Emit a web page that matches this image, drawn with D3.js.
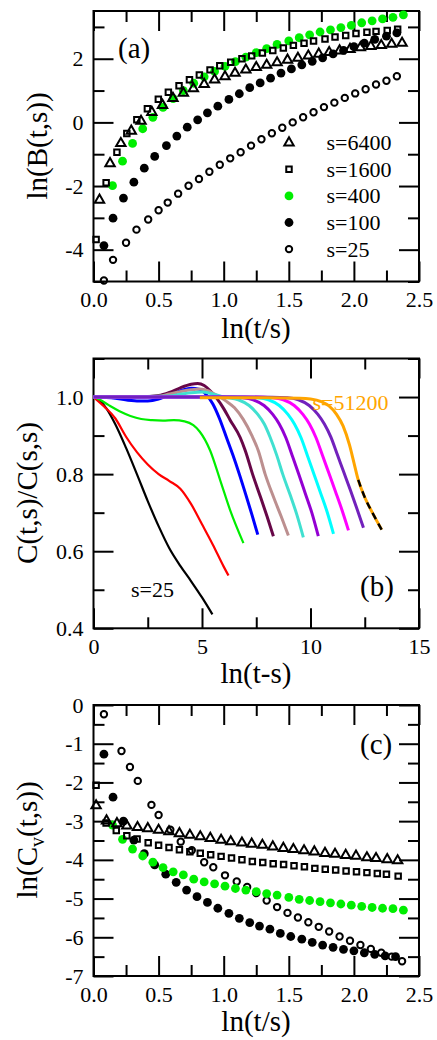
<!DOCTYPE html>
<html>
<head>
<meta charset="utf-8">
<script src="https://cdn.jsdelivr.net/npm/d3@7"></script>
<style>
  body { margin: 0; background: #fff; }
  text { font-family: "Liberation Serif", "Times New Roman", serif; }
</style>
</head>
<body>
<script>

// ---------- panel (a): ln(B(t,s)) vs ln(t/s) ----------
var aX25 = [0.08,0.15,0.25,0.33,0.42,0.50,0.57,0.65,0.73,0.81,0.89,0.97,1.05,1.13,1.21,1.29,1.37,1.45,1.53,1.61,1.69,1.77,1.85,1.93,2.01,2.09,2.17,2.25,2.33];
var aY25 = [-4.97,-4.32,-3.78,-3.37,-3.05,-2.76,-2.52,-2.24,-1.99,-1.78,-1.55,-1.33,-1.13,-0.94,-0.73,-0.53,-0.34,-0.17,0.0,0.16,0.32,0.48,0.62,0.77,0.91,1.04,1.19,1.31,1.45];
var aX100 = [0.08,0.15,0.23,0.31,0.39,0.47,0.56,0.64,0.72,0.80,0.875,0.955,1.04,1.12,1.20,1.28,1.36,1.44,1.52,1.60,1.68,1.76,1.84,1.92,2.00,2.08,2.16,2.25,2.33];
var aY100 = [-3.87,-3.01,-2.38,-1.88,-1.44,-1.07,-0.73,-0.43,-0.15,0.08,0.30,0.51,0.72,0.90,1.09,1.24,1.39,1.55,1.68,1.81,1.92,2.03,2.15,2.26,2.38,2.49,2.61,2.71,2.81];
var aX400 = [0.146,0.223,0.30,0.378,0.456,0.534,0.612,0.69,0.77,0.85,0.93,1.01,1.09,1.17,1.25,1.33,1.41,1.50,1.58,1.66,1.74,1.82,1.90,1.98,2.06,2.14,2.22,2.30,2.38];
var aY400 = [-1.99,-1.22,-0.66,-0.20,0.16,0.47,0.75,1.0,1.23,1.43,1.60,1.76,1.91,2.05,2.19,2.32,2.45,2.56,2.66,2.75,2.84,2.91,2.98,3.05,3.13,3.19,3.25,3.30,3.38];
var aX1600 = [0.02,0.097,0.18,0.256,0.333,0.414,0.498,0.575,0.657,0.737,0.813,0.895,0.97,1.054,1.14,1.215,1.297,1.377,1.458,1.535,1.617,1.69,1.778,1.855,1.937,2.016,2.10,2.17,2.256,2.336];
var aY1600 = [-3.68,-1.90,-0.94,-0.35,0.08,0.43,0.73,0.95,1.15,1.34,1.49,1.65,1.78,1.89,2.0,2.09,2.18,2.26,2.34,2.42,2.49,2.56,2.62,2.68,2.73,2.79,2.83,2.86,2.89,2.93];
var aX6400 = [0.046,0.127,0.21,0.29,0.365,0.448,0.53,0.61,0.69,0.767,0.85,0.93,1.01,1.087,1.17,1.25,1.33,1.41,1.49,1.57,1.65,1.73,1.81,1.89,1.97,2.05,2.13,2.21,2.29,2.37];
var aY6400 = [-2.44,-1.29,-0.66,-0.27,0.04,0.32,0.54,0.76,0.92,1.06,1.20,1.34,1.44,1.55,1.65,1.73,1.80,1.88,1.96,2.02,2.09,2.15,2.20,2.25,2.30,2.35,2.39,2.42,2.46,2.49];

// ---------- panel (b): C(t,s)/C(s,s) vs ln(t-s) ----------
var bS = ["25","50","100","200","400","800","1600","3200","6400","12800","25600","51200"];
var bColors = ["#000000","#ff0000","#00ee00","#0000ff","#670748","#bc8f8f","#40e0d0","#9400d3","#00ffff","#ff00ff","#7221bc","#ffa500"];
var bX = [
  [0,0.3,0.6,1.0,1.5,2.0,2.5,3.0,3.5,4.0,4.5,5.0,5.48],
  [0,0.5,1.0,1.5,2.0,2.5,3.0,3.5,4.0,4.5,5.0,5.5,6.0,6.22],
  [0,0.3,0.7,1.2,1.7,2.2,2.7,3.2,3.7,4.2,4.6,4.9,5.37,5.84,6.3,6.91],
  [0,1.0,2.0,2.5,3.0,3.5,4.0,4.5,4.9,5.2,5.5,5.8,6.14,6.42,6.72,7.0,7.3,7.57],
  [0,2.0,3.0,3.5,4.0,4.5,4.8,5.1,5.4,5.7,6.0,6.3,6.76,7.0,7.33,7.7,8.0,8.29],
  [0,3.0,3.5,4.0,4.5,4.9,5.3,5.7,6.1,6.5,6.9,7.3,7.6,7.91,8.3,8.65,8.98],
  [0,3.5,4.0,4.5,5.0,5.5,6.0,6.67,7.17,7.57,7.87,8.13,8.45,8.72,9.07,9.37,9.67],
  [0,6.0,6.86,7.36,7.86,8.26,8.56,8.86,9.16,9.46,9.76,10.06,10.36],
  [0,6.5,7.56,8.06,8.56,8.96,9.26,9.56,9.86,10.16,10.46,10.76,11.06],
  [0,7.0,8.25,8.75,9.25,9.65,9.95,10.25,10.55,10.85,11.15,11.45,11.75],
  [0,7.5,8.94,9.44,9.94,10.34,10.64,10.94,11.24,11.54,11.84,12.14,12.44],
  [4.9,8.0,9.5,10.0,10.5,10.85,11.2,11.5,11.8,12.0,12.2,12.5,12.9,13.28]
];
var bY = [
  [1.0,0.99,0.97,0.93,0.868,0.80,0.73,0.665,0.607,0.562,0.522,0.48,0.436],
  [1.0,0.975,0.945,0.897,0.857,0.825,0.80,0.782,0.762,0.722,0.67,0.617,0.56,0.537],
  [1.0,0.993,0.979,0.963,0.951,0.943,0.94,0.939,0.94,0.937,0.927,0.91,0.862,0.784,0.706,0.621],
  [1.0,0.997,0.99,0.99,0.995,1.006,1.016,1.023,1.02,1.006,0.982,0.945,0.893,0.85,0.80,0.75,0.695,0.643],
  [1.0,1.0,1.004,1.012,1.024,1.033,1.035,1.03,1.015,0.995,0.97,0.94,0.895,0.86,0.80,0.74,0.69,0.639],
  [1.0,1.002,1.008,1.014,1.019,1.021,1.016,1.004,0.99,0.972,0.942,0.90,0.86,0.80,0.74,0.69,0.641],
  [1.0,1.003,1.007,1.011,1.013,1.008,1.0,0.993,0.978,0.955,0.93,0.897,0.848,0.80,0.745,0.695,0.636],
  [1.0,1.0,0.998,0.993,0.978,0.955,0.93,0.895,0.848,0.80,0.75,0.70,0.639],
  [1.0,1.0,0.998,0.993,0.978,0.955,0.93,0.895,0.848,0.80,0.752,0.703,0.645],
  [1.0,1.0,0.998,0.993,0.978,0.955,0.93,0.895,0.849,0.802,0.755,0.707,0.654],
  [1.0,1.0,0.998,0.993,0.978,0.955,0.93,0.896,0.85,0.804,0.758,0.71,0.661],
  [0.998,0.998,0.997,0.995,0.988,0.977,0.955,0.925,0.875,0.83,0.785,0.74,0.695,0.656]
];
var bDashFrom = 12.2;   // black dashed tail over the s=51200 curve

// ---------- panel (c): ln(C_v(t,s)) vs ln(t/s) ----------
var cX25 = [0.08,0.215,0.28,0.34,0.445,0.50,0.59,0.67,0.755,0.85,0.92,1.01,1.10,1.18,1.25,1.33,1.41,1.49,1.57,1.65,1.73,1.81,1.89,1.97,2.05,2.13,2.21,2.29,2.37];
var cY25 = [-0.24,-1.19,-1.60,-1.96,-2.58,-2.84,-3.22,-3.53,-3.75,-4.06,-4.19,-4.40,-4.56,-4.70,-4.86,-5.05,-5.22,-5.37,-5.49,-5.61,-5.73,-5.85,-5.98,-6.09,-6.20,-6.30,-6.40,-6.50,-6.62];
var cX100 = [0.08,0.15,0.23,0.31,0.39,0.47,0.555,0.635,0.715,0.795,0.875,0.955,1.04,1.12,1.20,1.275,1.355,1.435,1.515,1.60,1.68,1.76,1.84,1.92,2.00,2.08,2.16,2.24,2.32];
var cY100 = [-1.27,-2.38,-3.0,-3.49,-3.84,-4.13,-4.37,-4.58,-4.78,-4.95,-5.10,-5.25,-5.38,-5.51,-5.62,-5.71,-5.79,-5.90,-5.98,-6.05,-6.13,-6.20,-6.26,-6.31,-6.35,-6.40,-6.44,-6.48,-6.50];
var cX400 = [0.146,0.223,0.30,0.378,0.456,0.534,0.612,0.69,0.77,0.85,0.93,1.01,1.09,1.17,1.25,1.33,1.41,1.50,1.58,1.66,1.74,1.82,1.90,1.98,2.06,2.14,2.22,2.30,2.38];
var cY400 = [-3.10,-3.47,-3.72,-3.90,-4.06,-4.20,-4.31,-4.39,-4.50,-4.57,-4.62,-4.68,-4.74,-4.78,-4.82,-4.87,-4.91,-4.97,-5.02,-5.05,-5.08,-5.11,-5.14,-5.17,-5.20,-5.23,-5.25,-5.26,-5.30];
var cX1600 = [0.02,0.097,0.175,0.256,0.335,0.42,0.50,0.58,0.66,0.74,0.82,0.90,0.98,1.06,1.14,1.22,1.30,1.38,1.46,1.54,1.62,1.70,1.78,1.86,1.94,2.02,2.10,2.18,2.25,2.34];
var cY1600 = [-2.07,-3.05,-3.24,-3.38,-3.46,-3.56,-3.62,-3.68,-3.74,-3.79,-3.83,-3.87,-3.91,-3.95,-4.0,-4.04,-4.07,-4.10,-4.12,-4.15,-4.18,-4.22,-4.24,-4.26,-4.29,-4.31,-4.33,-4.35,-4.37,-4.42];
var cX6400 = [0.02,0.10,0.18,0.256,0.338,0.417,0.50,0.58,0.66,0.74,0.82,0.897,0.98,1.054,1.14,1.215,1.297,1.377,1.458,1.535,1.617,1.696,1.778,1.855,1.937,2.016,2.10,2.17,2.256,2.336];
var cY6400 = [-2.60,-2.99,-3.06,-3.12,-3.16,-3.19,-3.23,-3.27,-3.32,-3.36,-3.40,-3.44,-3.49,-3.53,-3.56,-3.59,-3.62,-3.66,-3.70,-3.73,-3.76,-3.79,-3.83,-3.85,-3.88,-3.90,-3.94,-3.96,-3.99,-4.02];

// ticks
var tTicksMajor = [0,0.5,1,1.5,2,2.5];
var tTicksMinor = [0.25,0.75,1.25,1.75,2.25];
var aYMajor = [-4,-2,0,2];
var aYMinor = [-5,-3,-1,1,3];
var bXMajor = [0,5,10,15];
var bXMinor = [2.5,7.5,12.5];
var bYMajor = [0.4,0.6,0.8,1.0];
var bYMinor = [0.5,0.7,0.9,1.1];
var cYMajor = [0,-1,-2,-3,-4,-5,-6,-7];
var cYMinor = [-0.5,-1.5,-2.5,-3.5,-4.5,-5.5,-6.5];

// legend of panel (a)
var legendLabels = ["s=6400","s=1600","s=400","s=100","s=25"];

//Width and height
var w = 437;
var h = 1040;
var left = 93.5, right = 419;

var svg = d3.select("body")
    .append("svg")
    .attr("width", w)
    .attr("height", h);

svg.append("rect").attr("width", w).attr("height", h).style("fill", "#fff");

//Scales
var xA = d3.scaleLinear().domain([0, 2.5]).range([left, right]);
var yA = d3.scaleLinear().domain([-5, 3.5]).range([281.5, 11]);
var xB = d3.scaleLinear().domain([0, 15]).range([left, right]);
var yB = d3.scaleLinear().domain([0.4, 1.1]).range([628.3, 358.5]);
var xC = d3.scaleLinear().domain([0, 2.5]).range([left, right]);
var yC = d3.scaleLinear().domain([-7, 0]).range([976, 705]);

var fmtPlain = function (d) { return String(d); };

//Frame with inward ticks on all four sides
function drawAxes(x, y, xMaj, xMin, yMaj, yMin, xFmt, yFmt) {
    var yb = y.range()[0], yt = y.range()[1];
    var xl = x.range()[0], xr = x.range()[1];
    var g = svg.append("g").classed("axes", true);

    g.append("g").attr("transform", "translate(0," + yb + ")")
        .call(d3.axisBottom(x).tickValues(xMaj).tickSizeInner(-20).tickSizeOuter(0).tickPadding(10).tickFormat(xFmt));
    g.append("g").attr("transform", "translate(0," + yb + ")")
        .call(d3.axisBottom(x).tickValues(xMin).tickSizeInner(-11).tickSizeOuter(0).tickFormat(""));
    g.append("g").attr("transform", "translate(0," + yt + ")")
        .call(d3.axisTop(x).tickValues(xMaj).tickSizeInner(-20).tickSizeOuter(0).tickFormat(""));
    g.append("g").attr("transform", "translate(0," + yt + ")")
        .call(d3.axisTop(x).tickValues(xMin).tickSizeInner(-11).tickSizeOuter(0).tickFormat(""));

    g.append("g").attr("transform", "translate(" + xl + ",0)")
        .call(d3.axisLeft(y).tickValues(yMaj).tickSizeInner(-20).tickSizeOuter(0).tickPadding(10).tickFormat(yFmt));
    g.append("g").attr("transform", "translate(" + xl + ",0)")
        .call(d3.axisLeft(y).tickValues(yMin).tickSizeInner(-11).tickSizeOuter(0).tickFormat(""));
    g.append("g").attr("transform", "translate(" + xr + ",0)")
        .call(d3.axisRight(y).tickValues(yMaj).tickSizeInner(-20).tickSizeOuter(0).tickFormat(""));
    g.append("g").attr("transform", "translate(" + xr + ",0)")
        .call(d3.axisRight(y).tickValues(yMin).tickSizeInner(-11).tickSizeOuter(0).tickFormat(""));

    g.selectAll("path.domain").remove();
    g.selectAll(".tick line").style("stroke", "#000").style("stroke-width", 2);
    g.selectAll(".tick text")
        .style("font-family", "'Liberation Serif','Times New Roman',serif")
        .style("font-size", "22px")
        .style("fill", "#000");

    g.append("rect")
        .attr("x", xl).attr("y", yt)
        .attr("width", xr - xl).attr("height", yb - yt)
        .style("fill", "none").style("stroke", "#000").style("stroke-width", 2);
}

//Marker shapes
var triPath = d3.symbol().type(d3.symbolTriangle).size(38)();
var sqPath = d3.symbol().type(d3.symbolSquare).size(30)();

function drawPoints(x, y, xs, ys, kind) {
    var pts = xs.map(function (v, i) { return { x: v, y: ys[i] }; });
    var g = svg.append("g").classed("pts-" + kind, true);
    var sel = g.selectAll(".p").data(pts).enter();
    if (kind === "tri" || kind === "sq") {
        sel.append("path")
            .attr("d", kind === "tri" ? triPath : sqPath)
            .attr("transform", function (d) { return "translate(" + x(d.x) + "," + y(d.y) + ")"; })
            .style("fill", "none").style("stroke", "#000").style("stroke-width", 2);
    } else {
        sel.append("circle")
            .attr("cx", function (d) { return x(d.x); })
            .attr("cy", function (d) { return y(d.y); })
            .attr("r", kind === "open" ? 3.2 : 4.4)
            .style("fill", kind === "open" ? "none" : (kind === "green" ? "#00ee00" : "#000"))
            .style("stroke", kind === "open" ? "#000" : "none")
            .style("stroke-width", 2);
    }
}

function addText(x, y, str, size, anchor, color) {
    return svg.append("text")
        .attr("x", x).attr("y", y)
        .attr("text-anchor", anchor || "start")
        .style("font-size", size + "px")
        .style("fill", color || "#000")
        .text(str);
}

// ===== panel (a) =====
drawAxes(xA, yA, tTicksMajor, tTicksMinor, aYMajor, aYMinor, d3.format(".1f"), fmtPlain);
drawPoints(xA, yA, aX25, aY25, "open");
drawPoints(xA, yA, aX100, aY100, "filled");
drawPoints(xA, yA, aX400, aY400, "green");
drawPoints(xA, yA, aX1600, aY1600, "sq");
drawPoints(xA, yA, aX6400, aY6400, "tri");

//Legend
var legKinds = ["tri", "sq", "green", "filled", "open"];
legendLabels.forEach(function (lab, i) {
    var ly = 142.7 + i * 26.6;
    var k = legKinds[i];
    if (k === "tri" || k === "sq") {
        svg.append("path").attr("d", k === "tri" ? triPath : sqPath)
            .attr("transform", "translate(289," + ly + ")")
            .style("fill", "none").style("stroke", "#000").style("stroke-width", 2);
    } else {
        svg.append("circle").attr("cx", 289).attr("cy", ly)
            .attr("r", k === "open" ? 3.2 : 4.4)
            .style("fill", k === "open" ? "none" : (k === "green" ? "#00ee00" : "#000"))
            .style("stroke", k === "open" ? "#000" : "none").style("stroke-width", 2);
    }
    addText(326.5, ly + 7.5, lab, 22);
});
addText(118, 58, "(a)", 29);
addText(256, 338, "ln(t/s)", 29, "middle");
svg.append("text").attr("transform", "translate(47,146) rotate(-90)")
    .attr("text-anchor", "middle").style("font-size", "29px").text("ln(B(t,s))");

// ===== panel (b) =====
drawAxes(xB, yB, bXMajor, bXMinor, bYMajor, bYMinor, d3.format("d"), d3.format(".1f"));

var lineB = d3.line()
    .x(function (d) { return xB(d[0]); })
    .y(function (d) { return yB(d[1]); })
    .curve(d3.curveMonotoneX);

var bSeries = bX.map(function (xs, i) {
    return { s: bS[i], color: bColors[i], pts: xs.map(function (v, j) { return [v, bY[i][j]]; }) };
});

svg.append("g").classed("curves", true)
    .selectAll("path")
    .data(bSeries)
    .enter()
    .append("path")
    .attr("d", function (d) { return lineB(d.pts); })
    .style("fill", "none")
    .style("stroke", function (d) { return d.color; })
    .style("stroke-width", function (d, i) { return i < 3 ? 2.2 : 3; });

//dashed tail on the last curve
var lastPts = bSeries[bSeries.length - 1].pts.filter(function (p) { return p[0] >= bDashFrom; });
svg.append("path")
    .attr("d", lineB(lastPts))
    .style("fill", "none").style("stroke", "#000")
    .style("stroke-width", 2.4).style("stroke-dasharray", "7,5");

addText(312.5, 410, "s=51200", 22, "start", "#ffa500");
addText(131, 597, "s=25", 22);
addText(360, 596, "(b)", 29);
addText(256, 683, "ln(t-s)", 29, "middle");
svg.append("text").attr("transform", "translate(37,493) rotate(-90)")
    .attr("text-anchor", "middle").style("font-size", "29px").text("C(t,s)/C(s,s)");

// ===== panel (c) =====
drawAxes(xC, yC, tTicksMajor, tTicksMinor, cYMajor, cYMinor, d3.format(".1f"), fmtPlain);
drawPoints(xC, yC, cX25, cY25, "open");
drawPoints(xC, yC, cX100, cY100, "filled");
drawPoints(xC, yC, cX400, cY400, "green");
drawPoints(xC, yC, cX1600, cY1600, "sq");
drawPoints(xC, yC, cX6400, cY6400, "tri");

addText(360, 754, "(c)", 29);
addText(256, 1031, "ln(t/s)", 29, "middle");
var cLab = svg.append("text").attr("transform", "translate(37,840) rotate(-90)")
    .attr("text-anchor", "middle").style("font-size", "29px");
cLab.append("tspan").text("ln(C");
cLab.append("tspan").attr("dy", 7).style("font-size", "20px").text("v");
cLab.append("tspan").attr("dy", -7).text("(t,s))");

</script>
</body>
</html>
